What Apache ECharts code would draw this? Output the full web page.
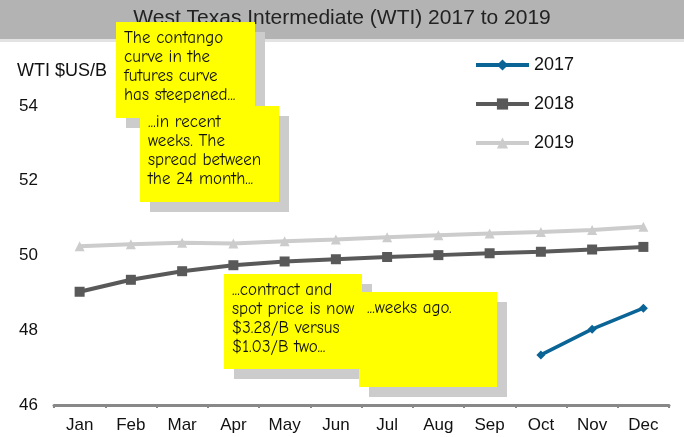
<!DOCTYPE html>
<html>
<head>
<meta charset="utf-8">
<script src="https://cdn.jsdelivr.net/npm/echarts@6/dist/echarts.min.js"></script>
<style>
  html, body { margin: 0; padding: 0; background: #fff; }
  #chart { width: 684px; height: 437px; }
</style>
</head>
<body>
<div id="chart"></div>
<script>
  // data
  var months = ['Jan', 'Feb', 'Mar', 'Apr', 'May', 'Jun', 'Jul', 'Aug', 'Sep', 'Oct', 'Nov', 'Dec'];
  var wti2017 = [null, null, null, null, null, null, null, null, null, 47.34, 48.03, 48.59];
  var wti2018 = [49.03, 49.35, 49.58, 49.74, 49.84, 49.90, 49.96, 50.01, 50.06, 50.10, 50.16, 50.23];
  var wti2019 = [50.25, 50.30, 50.34, 50.32, 50.38, 50.43, 50.49, 50.54, 50.59, 50.63, 50.68, 50.77];
  var yTicks = [46, 48, 50, 52, 54];

  var notes = [
    { x: 116, y: 22, w: 139, h: 96, lines: ['The contango', 'curve in the', 'futures curve', 'has steepened...'] },
    { x: 140, y: 106, w: 139, h: 96, lines: ['...in recent', 'weeks. The', 'spread between', 'the 24 month...'] },
    { x: 224, y: 274, w: 138, h: 95, lines: ['...contract and', 'spot price is now', '$3.28/B versus', '$1.03/B two...'] },
    { x: 359, y: 292, w: 138, h: 95, lines: ['...weeks ago.'] }
  ];

  var baseFont = '"Liberation Sans", Arial, sans-serif';
  var noteFont = '"Comic Sans MS", "Comic Neue", "DejaVu Sans", sans-serif';
  var graphics = [
    { type: 'rect', z: 0, shape: { x: 0, y: 0, width: 684, height: 39 }, style: { fill: '#b3b3b3' } },
    { type: 'rect', z: 0, shape: { x: 0, y: 39, width: 684, height: 3 }, style: { fill: '#e3e3e3' } },
    { type: 'text', z: 10, left: 17, top: 62, style: { text: 'WTI $US/B', font: '18px ' + baseFont, fill: '#111' } }
  ];
  notes.forEach(function (n, i) {
    var z = 100 + i * 3;
    graphics.push({ type: 'rect', z: z, shape: { x: n.x + 10, y: n.y + 10, width: n.w, height: n.h }, style: { fill: '#cccccc' } });
    graphics.push({ type: 'rect', z: z + 1, shape: { x: n.x, y: n.y, width: n.w, height: n.h }, style: { fill: '#ffff00' } });
    graphics.push({
      type: 'text', z: z + 2, left: n.x + 8, top: n.y + 7,
      style: { text: n.lines.join('\n'), font: '17px ' + noteFont, fill: '#111', lineHeight: 19 }
    });
  });

  var chart = echarts.init(document.getElementById('chart'));
  chart.setOption({
    backgroundColor: '#ffffff',
    animation: false,
    title: {
      text: 'West Texas Intermediate (WTI) 2017 to 2019',
      left: 'center',
      top: 3,
      textStyle: { fontSize: 21, fontWeight: 'normal', color: '#222', fontFamily: baseFont }
    },
    legend: {
      orient: 'vertical',
      left: 469,
      top: 51,
      itemWidth: 53,
      itemHeight: 14,
      itemGap: 21,
      textStyle: { fontSize: 18, color: '#111', fontFamily: baseFont },
      data: [
        { name: '2017', lineStyle: { width: 4 } },
        { name: '2018', lineStyle: { width: 4 } },
        { name: '2019', lineStyle: { width: 4 } }
      ]
    },
    grid: { left: 54, right: 15, top: 106, bottom: 32 },
    xAxis: {
      type: 'category',
      data: months,
      boundaryGap: true,
      axisLine: { lineStyle: { color: '#888', width: 3 } },
      axisTick: { show: true, length: 3, lineStyle: { color: '#888', width: 2 } },
      axisLabel: { fontSize: 17, color: '#111', margin: 12, fontFamily: baseFont }
    },
    yAxis: {
      type: 'value',
      min: yTicks[0],
      max: yTicks[yTicks.length - 1],
      interval: 2,
      axisLine: { show: false },
      axisTick: { show: false },
      splitLine: { show: false },
      axisLabel: { fontSize: 17, color: '#111', margin: 16, fontFamily: baseFont }
    },
    graphic: graphics,
    series: [
      {
        name: '2017', type: 'line', data: wti2017,
        symbol: 'diamond', symbolSize: 9,
        lineStyle: { color: '#0a6496', width: 3.5 },
        itemStyle: { color: '#0a6496' }
      },
      {
        name: '2018', type: 'line', data: wti2018,
        symbol: 'rect', symbolSize: 10,
        lineStyle: { color: '#595959', width: 4 },
        itemStyle: { color: '#595959' }
      },
      {
        name: '2019', type: 'line', data: wti2019,
        symbol: 'triangle', symbolSize: 10,
        lineStyle: { color: '#cccccc', width: 4 },
        itemStyle: { color: '#cccccc' }
      }
    ]
  });
</script>
</body>
</html>
